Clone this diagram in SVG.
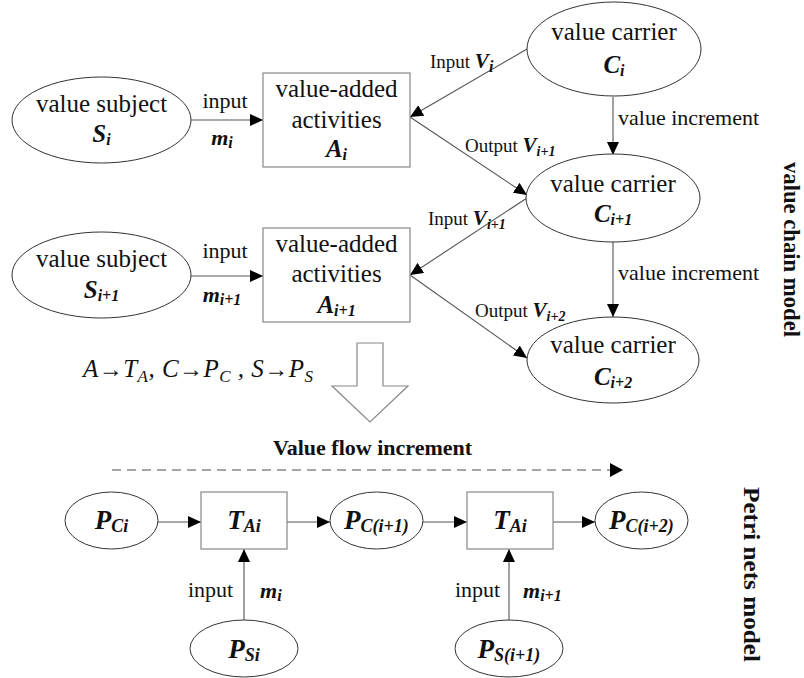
<svg xmlns="http://www.w3.org/2000/svg" width="804" height="678" viewBox="0 0 804 678">
<defs>
<marker id="ah" markerUnits="userSpaceOnUse" markerWidth="14" markerHeight="12" refX="13" refY="6" orient="auto">
<path d="M0,0 L13,6 L0,12 z" fill="#000"/>
</marker>
<style>
text{font-family:"Liberation Serif","Times New Roman",serif;fill:#111}
.n{font-size:25px}
.s{font-size:22px}
.l{font-size:19px}
.bi{font-weight:bold;font-style:italic}
.sub{font-size:16px}
.el{fill:#fff;stroke:#333;stroke-width:1}
.rc{fill:#fff;stroke:#888;stroke-width:1.2}
.cn{stroke:#555;stroke-width:1.1;fill:none;marker-end:url(#ah)}
.m{text-anchor:middle}
.side{font-size:24px;font-weight:bold}
.ar{font-style:normal;font-size:24px}
</style>
</defs>
<rect width="804" height="678" fill="#fff"/>

<g id="connectors">
<line class="cn" x1="191" y1="120" x2="263" y2="120"/>
<line class="cn" x1="527" y1="49" x2="410" y2="117"/>
<line class="cn" x1="410" y1="117" x2="527" y2="195"/>
<line class="cn" x1="613" y1="97" x2="613" y2="155"/>
<line class="cn" x1="191" y1="276" x2="263" y2="276"/>
<line class="cn" x1="527" y1="198" x2="410" y2="275"/>
<line class="cn" x1="410" y1="275" x2="527" y2="358"/>
<line class="cn" x1="613" y1="242" x2="613" y2="317"/>
<line x1="112" y1="470" x2="611" y2="470" stroke="#888" stroke-width="1.3" stroke-dasharray="9,6"/>
<path d="M610,463 L623,470 L610,477 z" fill="#000"/>
<line class="cn" x1="158" y1="522" x2="201" y2="522"/>
<line class="cn" x1="287" y1="522" x2="330" y2="522"/>
<line class="cn" x1="423" y1="522" x2="467" y2="522"/>
<line class="cn" x1="553" y1="522" x2="595" y2="522"/>
<line class="cn" x1="244" y1="620" x2="244" y2="549"/>
<line class="cn" x1="509" y1="620" x2="509" y2="549"/>
<polygon points="357,343 383,343 383,386 408,386 370,422 332,386 357,386" fill="#fff" stroke="#888" stroke-width="1.2"/>
</g>

<g id="labels">
<text class="s m" x="225" y="108">input</text>
<text class="s m bi" x="222" y="145">m<tspan class="sub" dy="3">i</tspan></text>
<text class="l" x="430" y="68">Input <tspan class="bi" font-size="21">V</tspan><tspan class="bi sub" dy="4">i</tspan></text>
<text class="l" x="465" y="152">Output <tspan class="bi" font-size="21">V</tspan><tspan class="bi" font-size="14" dy="4">i+1</tspan></text>
<text class="s" x="618" y="125">value increment</text>
<text class="s m" x="225" y="258">input</text>
<text class="s m bi" x="222" y="302">m<tspan class="sub" dy="3">i+1</tspan></text>
<text class="l" x="428" y="225">Input <tspan class="bi" font-size="21">V</tspan><tspan class="bi" font-size="14" dy="4">i+1</tspan></text>
<text class="l" x="475" y="317">Output <tspan class="bi" font-size="21">V</tspan><tspan class="bi" font-size="14" dy="4">i+2</tspan></text>
<text class="s" x="618" y="280">value increment</text>
<text x="83" y="377" font-size="25" font-style="italic" textLength="230" lengthAdjust="spacing">A<tspan class="ar">→</tspan>T<tspan font-size="17" dy="5">A</tspan><tspan dy="-5">, C</tspan><tspan class="ar">→</tspan>P<tspan font-size="17" dy="5">C</tspan><tspan dy="-5"> , S</tspan><tspan class="ar">→</tspan>P<tspan font-size="17" dy="5">S</tspan></text>
<text class="s m" x="372.5" y="455" font-weight="bold">Value flow increment</text>
<text class="s m" x="210.5" y="597">input</text>
<text class="s bi" x="260" y="598">m<tspan class="sub" dy="3">i</tspan></text>
<text class="s m" x="477.5" y="597">input</text>
<text class="s bi" x="523" y="598">m<tspan class="sub" dy="3">i+1</tspan></text>
<text class="side m" transform="translate(784,249.5) rotate(90)" textLength="175" lengthAdjust="spacingAndGlyphs">value chain model</text>
<text class="side m" transform="translate(744,574.5) rotate(90)" textLength="175" lengthAdjust="spacingAndGlyphs">Petri nets model</text>
</g>

<g id="S_i">
<ellipse class="el" cx="101.5" cy="120" rx="89.5" ry="43"/>
<text class="n m" x="101.5" y="112">value subject</text>
<text class="n m bi" x="101.5" y="142">S<tspan class="sub" dy="3">i</tspan></text>
</g>
<g id="A_i">
<rect class="rc" x="263" y="73" width="147" height="94"/>
<text class="n m" x="336.5" y="97">value-added</text>
<text class="n m" x="336.5" y="128">activities</text>
<text class="n m bi" x="336.5" y="157">A<tspan class="sub" dy="3">i</tspan></text>
</g>
<g id="C_i">
<ellipse class="el" cx="614" cy="49" rx="87" ry="47"/>
<text class="n m" x="614" y="40">value carrier</text>
<text class="n m bi" x="614" y="73">C<tspan class="sub" dy="3">i</tspan></text>
</g>
<g id="C_i1">
<ellipse class="el" cx="613" cy="198" rx="87" ry="44"/>
<text class="n m" x="613" y="192">value carrier</text>
<text class="n m bi" x="613" y="222">C<tspan class="sub" dy="3">i+1</tspan></text>
</g>
<g id="S_i1">
<ellipse class="el" cx="101.5" cy="275" rx="89.5" ry="43"/>
<text class="n m" x="101.5" y="267">value subject</text>
<text class="n m bi" x="101.5" y="298">S<tspan class="sub" dy="3">i+1</tspan></text>
</g>
<g id="A_i1">
<rect class="rc" x="263" y="228" width="147" height="94"/>
<text class="n m" x="336.5" y="252">value-added</text>
<text class="n m" x="336.5" y="282">activities</text>
<text class="n m bi" x="336.5" y="313">A<tspan class="sub" dy="3">i+1</tspan></text>
</g>
<g id="C_i2">
<ellipse class="el" cx="613" cy="360" rx="86" ry="43"/>
<text class="n m" x="613" y="353">value carrier</text>
<text class="n m bi" x="613" y="385">C<tspan class="sub" dy="3">i+2</tspan></text>
</g>

<g id="P_Ci">
<ellipse class="el" cx="111.5" cy="520.5" rx="46.5" ry="28.5"/>
<text class="m bi" x="111.5" y="529" font-size="27">P<tspan font-size="18" dy="3">Ci</tspan></text>
</g>
<g id="T_Ai_1">
<rect class="rc" x="201" y="492" width="86" height="57"/>
<text class="m bi" x="244" y="529" font-size="27">T<tspan font-size="18" dy="3">Ai</tspan></text>
</g>
<g id="P_Ci1">
<ellipse class="el" cx="376.5" cy="520.5" rx="46.5" ry="28.5"/>
<text class="m bi" x="376.5" y="529" font-size="27">P<tspan font-size="18" dy="3">C(i+1)</tspan></text>
</g>
<g id="T_Ai_2">
<rect class="rc" x="467" y="492" width="86" height="57"/>
<text class="m bi" x="510" y="529" font-size="27">T<tspan font-size="18" dy="3">Ai</tspan></text>
</g>
<g id="P_Ci2">
<ellipse class="el" cx="641.5" cy="520.5" rx="46.5" ry="28.5"/>
<text class="m bi" x="641.5" y="529" font-size="27">P<tspan font-size="18" dy="3">C(i+2)</tspan></text>
</g>
<g id="P_Si">
<ellipse class="el" cx="244" cy="648.5" rx="54" ry="28.5"/>
<text class="m bi" x="244" y="658" font-size="27">P<tspan font-size="18" dy="3">Si</tspan></text>
</g>
<g id="P_Si1">
<ellipse class="el" cx="509" cy="648.5" rx="54" ry="28.5"/>
<text class="m bi" x="509" y="658" font-size="27">P<tspan font-size="18" dy="3">S(i+1)</tspan></text>
</g>
</svg>
